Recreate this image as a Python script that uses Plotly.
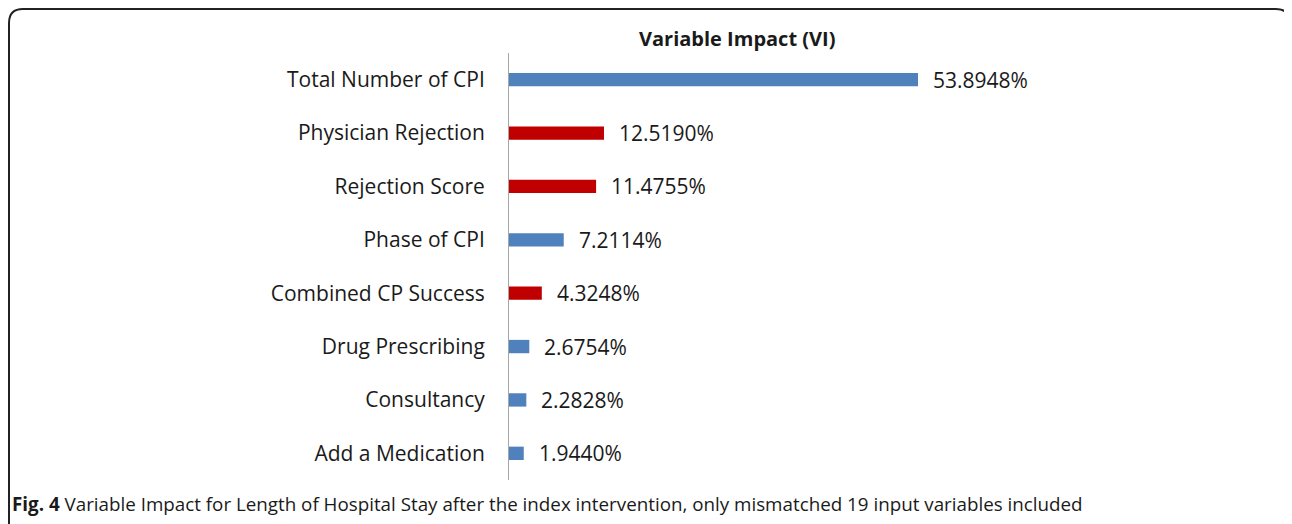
import plotly.graph_objects as go

categories = ["Total Number of CPI", "Physician Rejection", "Rejection Score", "Phase of CPI",
              "Combined CP Success", "Drug Prescribing", "Consultancy", "Add a Medication"]
values = [53.8948, 12.5190, 11.4755, 7.2114, 4.3248, 2.6754, 2.2828, 1.9440]
labels = ["53.8948%", "12.5190%", "11.4755%", "7.2114%", "4.3248%", "2.6754%", "2.2828%", "1.9440%"]
bar_colors = ["#4F81BD", "#C00000", "#C00000", "#4F81BD", "#C00000", "#4F81BD", "#4F81BD", "#4F81BD"]

OFF = 8  # page body margin
W, H = 1292 - OFF, 524 - OFF
FONT = "Open Sans"

def px(x):
    return (x - OFF) / W

def py(y):
    return 1 - (y - OFF) / H

fig = go.Figure()
fig.add_trace(go.Bar(
    y=categories, x=values, orientation="h",
    marker=dict(color=bar_colors, line=dict(width=0)),
    width=0.25, showlegend=False, hoverinfo="skip"
))

for c, v, t in zip(categories, values, labels):
    fig.add_annotation(x=v, y=c, text=t, showarrow=False, xanchor="left", xshift=13,
                       font=dict(family=FONT, size=21, color="#1a1a1a"))

# rounded border
r = 14
x0, x1 = 9, 1290
y0, y1 = 9, 540
def P(x, y):
    return f"{px(x):.5f},{py(y):.5f}"
path = (f"M {P(x0, y1)} L {P(x0, y0 + r)} Q {P(x0, y0)} {P(x0 + r, y0)} "
        f"L {P(x1 - r, y0)} Q {P(x1, y0)} {P(x1, y0 + r)} L {P(x1, y1)}")
fig.add_shape(type="path", path=path, xref="paper", yref="paper",
              line=dict(color="#222222", width=2))

fig.add_annotation(x=px(737), y=py(39), xref="paper", yref="paper", text="<b>Variable Impact (VI)</b>",
                   showarrow=False, xanchor="center", yanchor="middle",
                   font=dict(family=FONT, size=20, color="#1a1a1a"))

fig.add_annotation(x=px(10), y=py(504), xref="paper", yref="paper",
                   text="<b>Fig. 4</b> Variable Impact for Length of Hospital Stay after the index intervention, only mismatched 19 input variables included",
                   showarrow=False, xanchor="left", yanchor="middle",
                   font=dict(family=FONT, size=18.8, color="#1a1a1a"))

fig.update_layout(
    width=W, height=H, margin=dict(l=0, r=0, t=0, b=0),
    paper_bgcolor="white", plot_bgcolor="white",
    xaxis=dict(domain=[px(509), px(1280)], range=[0, 771 / 7.589], visible=False),
    yaxis=dict(domain=[py(480), py(53)], autorange="reversed", showline=True,
               linecolor="#A6A6A6", linewidth=1, ticks="", showgrid=False,
               ticklabelstandoff=19,
               tickfont=dict(family=FONT, size=21, color="#1a1a1a")),
)

fig.write_html("out.html")
